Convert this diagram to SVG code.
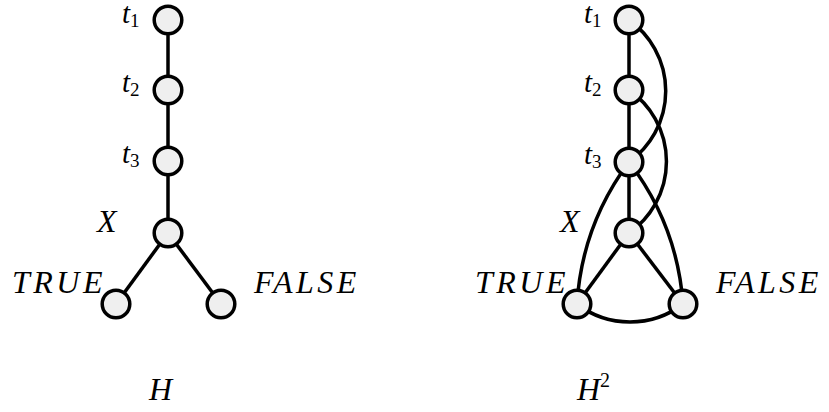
<svg xmlns="http://www.w3.org/2000/svg" width="829" height="412" viewBox="0 0 829 412">
<rect width="829" height="412" fill="#fff"/>
<g id="connectors" fill="none" stroke="#000" stroke-width="3.5">
<line x1="168" y1="20" x2="168" y2="233"/>
<line x1="168" y1="233" x2="116" y2="304"/>
<line x1="168" y1="233" x2="221" y2="304"/>
<line x1="629" y1="20" x2="629" y2="233"/>
<line x1="629" y1="233" x2="577" y2="304"/>
<line x1="629" y1="233" x2="683" y2="304"/>
<path d="M629 20 A87 87 0 0 1 629 162"/>
<path d="M629 90 A87 87 0 0 1 629 233"/>
<path d="M629 162 A265 265 0 0 0 577 304"/>
<path d="M629 162 A265 265 0 0 1 683 304"/>
<path d="M577 304 A87 87 0 0 0 683 304"/>
</g>
<g id="H-t1"><circle cx="168" cy="20" r="13.8" fill="#efefef" stroke="#000" stroke-width="3.5"/></g>
<g id="H-t2"><circle cx="168" cy="90" r="13.8" fill="#efefef" stroke="#000" stroke-width="3.5"/></g>
<g id="H-t3"><circle cx="168" cy="161" r="13.8" fill="#efefef" stroke="#000" stroke-width="3.5"/></g>
<g id="H-X"><circle cx="168" cy="233" r="13.8" fill="#efefef" stroke="#000" stroke-width="3.5"/></g>
<g id="H-TRUE"><circle cx="116" cy="304" r="13.8" fill="#efefef" stroke="#000" stroke-width="3.5"/></g>
<g id="H-FALSE"><circle cx="221" cy="304" r="13.8" fill="#efefef" stroke="#000" stroke-width="3.5"/></g>
<g id="H2-t1"><circle cx="629" cy="20" r="13.8" fill="#efefef" stroke="#000" stroke-width="3.5"/></g>
<g id="H2-t2"><circle cx="629" cy="90" r="13.8" fill="#efefef" stroke="#000" stroke-width="3.5"/></g>
<g id="H2-t3"><circle cx="629" cy="162" r="13.8" fill="#efefef" stroke="#000" stroke-width="3.5"/></g>
<g id="H2-X"><circle cx="629" cy="233" r="13.8" fill="#efefef" stroke="#000" stroke-width="3.5"/></g>
<g id="H2-TRUE"><circle cx="577" cy="304" r="13.8" fill="#efefef" stroke="#000" stroke-width="3.5"/></g>
<g id="H2-FALSE"><circle cx="683" cy="304" r="13.8" fill="#efefef" stroke="#000" stroke-width="3.5"/></g>
<text x="122" y="23" font-family="serif" font-style="italic" font-size="29">t<tspan font-family="serif" font-style="normal" font-size="19" dy="4">1</tspan></text>
<text x="122" y="92" font-family="serif" font-style="italic" font-size="29">t<tspan font-family="serif" font-style="normal" font-size="19" dy="4">2</tspan></text>
<text x="122" y="163" font-family="serif" font-style="italic" font-size="29">t<tspan font-family="serif" font-style="normal" font-size="19" dy="4">3</tspan></text>
<text x="97" y="232" font-family="serif" font-style="italic" font-size="32">X</text>
<text x="12" y="293" font-family="serif" font-style="italic" font-size="32" letter-spacing="3.5">TRUE</text>
<text x="254" y="293" font-family="serif" font-style="italic" font-size="32" letter-spacing="3.5">FALSE</text>
<text x="149" y="400" font-family="serif" font-style="italic" font-size="32">H</text>
<text x="584" y="23" font-family="serif" font-style="italic" font-size="29">t<tspan font-family="serif" font-style="normal" font-size="19" dy="4">1</tspan></text>
<text x="584" y="92" font-family="serif" font-style="italic" font-size="29">t<tspan font-family="serif" font-style="normal" font-size="19" dy="4">2</tspan></text>
<text x="584" y="164" font-family="serif" font-style="italic" font-size="29">t<tspan font-family="serif" font-style="normal" font-size="19" dy="4">3</tspan></text>
<text x="560" y="232" font-family="serif" font-style="italic" font-size="32">X</text>
<text x="475" y="293" font-family="serif" font-style="italic" font-size="32" letter-spacing="3.5">TRUE</text>
<text x="716" y="293" font-family="serif" font-style="italic" font-size="32" letter-spacing="3.5">FALSE</text>
<text x="577" y="400" font-family="serif" font-style="italic" font-size="32">H<tspan font-family="serif" font-style="normal" font-size="20" dy="-13">2</tspan></text>
</svg>
